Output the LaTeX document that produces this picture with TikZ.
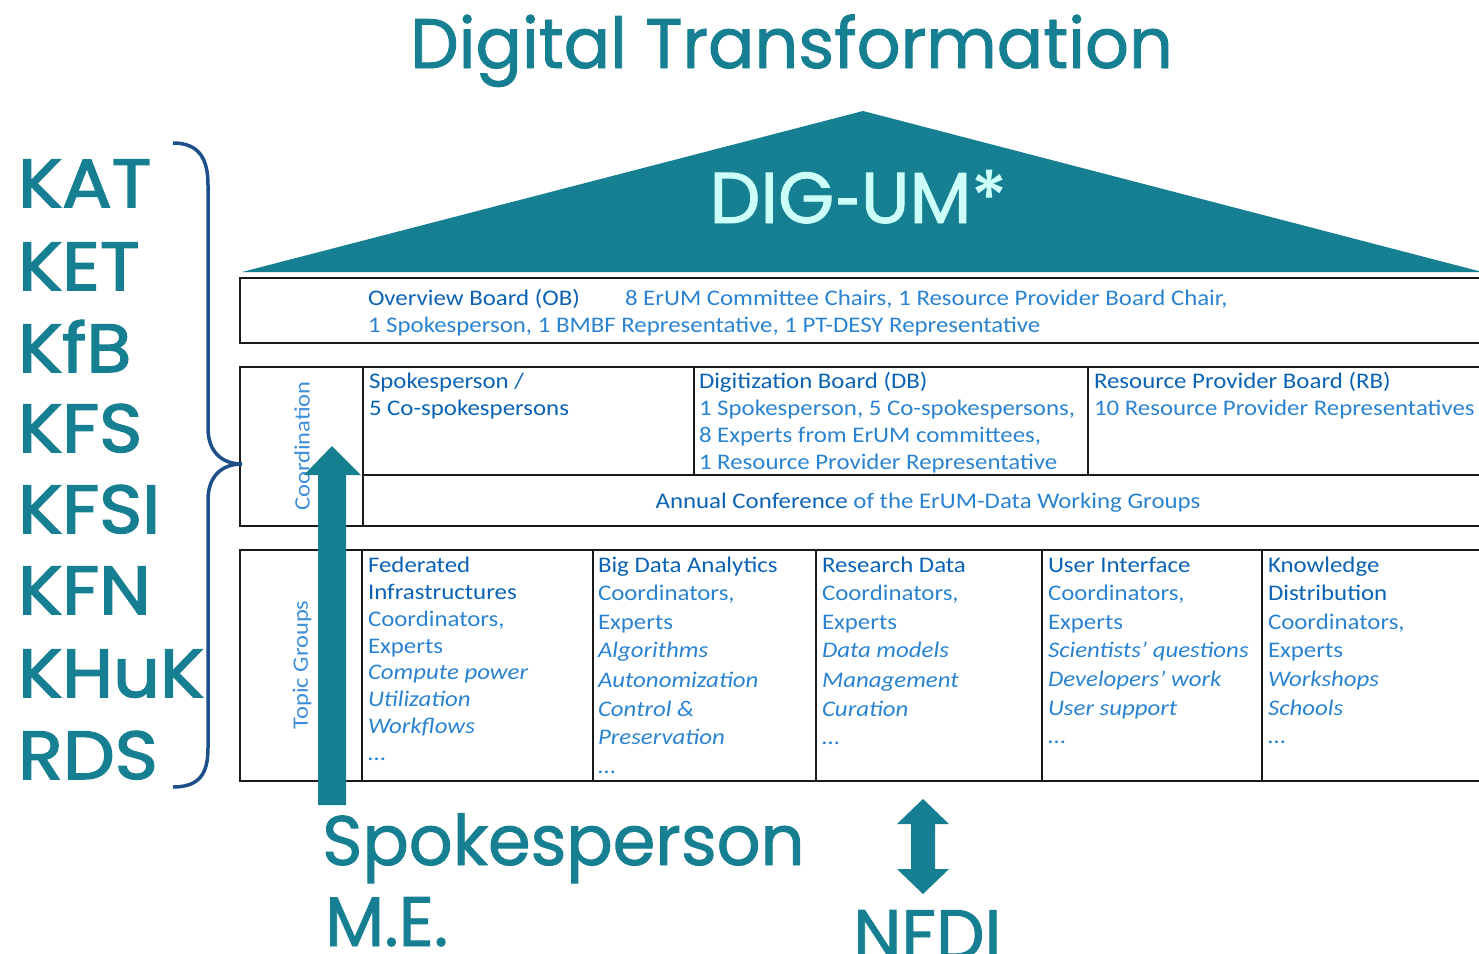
\documentclass[tikz,border=0pt]{standalone}
\usepackage{fontspec}
\setmainfont{Carlito}[FakeStretch=1.115]
\newfontfamily\popm{Poppins}[FakeBold=1.2]
\newfontfamily\popt{Poppins}[FakeBold=1.3, FakeStretch=0.98]
\newfontfamily\popsb{Poppins}[FakeBold=2.2, FakeStretch=1.08]
\newfontfamily\hyf{Lato}[FakeBold=1.5]
\definecolor{roof}{HTML}{167F92}
\definecolor{bracec}{HTML}{1D4F8A}
\definecolor{headblue}{HTML}{0A62B4}
\definecolor{bodyblue}{HTML}{2A83D0}
\definecolor{sideblue}{HTML}{3D8FDA}
\definecolor{digc}{HTML}{CCFFF8}
\definecolor{lineblk}{HTML}{1A1A1A}
\begin{document}
\begin{tikzpicture}[x=1pt,y=-1pt,
  box/.style={draw=lineblk, line width=2pt},
  txt/.style={anchor=base west, inner sep=0pt, outer sep=0pt, font=\fontsize{22.3}{26}\selectfont, text=bodyblue},
  head/.style={txt, text=headblue},
  itx/.style={txt, font=\fontsize{22.3}{26}\selectfont\itshape},
  side/.style={inner sep=0pt, rotate=90, font=\fontsize{22}{26}\selectfont, text=sideblue},
  list/.style={anchor=base west, inner sep=0pt, text=roof, font=\fontsize{68}{70}\popsb},
  bigtxt/.style={anchor=base west, inner sep=0pt, text=roof, font=\fontsize{70}{72}\popt}]
\useasboundingbox (0,0) rectangle (1479,953);

% title
\node[bigtxt] (title) at (410,68) {Digital Transformation};

% roof
\fill[roof] (242,272) -- (863,111) -- (1490,274) -- (1490,272) -- cycle;
\node[anchor=base, inner sep=0pt, text=digc, font=\fontsize{72}{74}\popm] (dig) at (858,223) {DIG{\hyf\fontsize{72}{74}\selectfont -}UM*};

% overview board
\draw[box] (240,278) rectangle (1495,343);
\node[head] (ob) at (368,305) {Overview Board (OB)};
\node[txt] (ob1) at (625,305) {8 ErUM Committee Chairs, 1 Resource Provider Board Chair,};
\node[txt] (ob2) at (368,332) {1 Spokesperson, 1 BMBF Representative, 1 PT-DESY Representative};

% coordination
\draw[box] (240,367) rectangle (1495,526);
\draw[box] (363,367) -- (363,526);
\draw[box] (363,475) -- (1495,475);
\draw[box] (694,367) -- (694,475);
\draw[box] (1088,367) -- (1088,475);
\node[side] (coord) at (302,446) {Coordination};
\node[head] (sp1) at (369,388) {Spokesperson /};
\node[head] (sp2) at (369,415) {5 Co-spokespersons};
\node[head] (db) at (699,388) {Digitization Board (DB)};
\node[txt] (db1) at (699,415) {1 Spokesperson, 5 Co-spokespersons,};
\node[txt] (db2) at (699,442) {8 Experts from ErUM committees,};
\node[txt] (db3) at (699,469) {1 Resource Provider Representative};
\node[head] (rb) at (1094,388) {Resource Provider Board (RB)};
\node[txt] (rb1) at (1094,415) {10 Resource Provider Representatives};
\node[txt, anchor=base] (ac) at (928,508) {\textcolor{headblue}{Annual Conference} of the ErUM-Data Working Groups};

% topic groups
\draw[box] (240,550) rectangle (1495,781);
\draw[box] (362,550) -- (362,781);
\draw[box] (593,550) -- (593,781);
\draw[box] (816,550) -- (816,781);
\draw[box] (1042,550) -- (1042,781);
\draw[box] (1262,550) -- (1262,781);
\node[side] (tg) at (302,665) {Topic Groups};

\node[head] (c1a) at (368,572) {Federated};
\node[head] (c1b) at (368,599) {Infrastructures};
\node[txt] (c1c) at (368,626) {Coordinators,};
\node[txt] (c1d) at (368,653) {Experts};
\node[itx] (c1e) at (368,679) {Compute power};
\node[itx] (c1f) at (368,706) {Utilization};
\node[itx] (c1g) at (368,733) {Workflows};
\node[txt] (c1h) at (368,760) {\dots};

\node[head] (c2a) at (598,572) {Big Data Analytics};
\node[txt] (c2b) at (598,600) {Coordinators,};
\node[txt] (c2c) at (598,629) {Experts};
\node[itx] (c2d) at (598,657) {Algorithms};
\node[itx] (c2e) at (598,687) {Autonomization};
\node[itx] (c2f) at (598,716) {Control \&};
\node[itx] (c2g) at (598,744) {Preservation};
\node[txt] (c2h) at (598,773) {\dots};

\node[head] (c3a) at (822,572) {Research Data};
\node[txt] (c3b) at (822,600) {Coordinators,};
\node[txt] (c3c) at (822,629) {Experts};
\node[itx] (c3d) at (822,657) {Data models};
\node[itx] (c3e) at (822,687) {Management};
\node[itx] (c3f) at (822,716) {Curation};
\node[txt] (c3g) at (822,744) {\dots};

\node[head] (c4a) at (1048,572) {User Interface};
\node[txt] (c4b) at (1048,600) {Coordinators,};
\node[txt] (c4c) at (1048,629) {Experts};
\node[itx] (c4d) at (1048,657) {Scientists’ questions};
\node[itx] (c4e) at (1048,686) {Developers’ work};
\node[itx] (c4f) at (1048,715) {User support};
\node[txt] (c4g) at (1048,743) {\dots};

\node[head] (c5a) at (1268,572) {Knowledge};
\node[head] (c5b) at (1268,600) {Distribution};
\node[txt] (c5c) at (1268,629) {Coordinators,};
\node[txt] (c5d) at (1268,657) {Experts};
\node[itx] (c5e) at (1268,686) {Workshops};
\node[itx] (c5f) at (1268,715) {Schools};
\node[txt] (c5g) at (1268,743) {\dots};

% left list
\node[list] (l1) at (18,207) {KAT};
\node[list] (l2) at (18,290) {KET};
\node[list] (l3) at (18,372) {KfB};
\node[list] (l4) at (18,452) {KFS};
\node[list] (l5) at (18,533) {KFSI};
\node[list] (l6) at (18,614) {KFN};
\node[list] (l7) at (18,697) {KHuK};
\node[list] (l8) at (18,779) {RDS};

% brace
\draw[bracec, line width=3.5pt] (173,143) .. controls (200,143) and (208,160) .. (208,185)
  -- (208,428) .. controls (208,452) and (222,464) .. (242,464)
  .. controls (222,464) and (208,476) .. (208,500)
  -- (208,748) .. controls (208,773) and (200,787) .. (173,787);

% up arrow
\fill[roof] (318,805) -- (318,475) -- (304,475) -- (332,446) -- (361,475) -- (346,475) -- (346,805) -- cycle;

% bottom texts
\node[bigtxt] (spk) at (322,865) {Spokesperson};
\node[bigtxt] (me) at (325,946) {M.E.};
\node[bigtxt] (nfdi) at (853,959) {NFDI};

% double arrow
\fill[roof] (923,799) -- (949,824) -- (935,824) -- (935,869) -- (949,869) -- (923,894)
  -- (897,869) -- (911,869) -- (911,824) -- (897,824) -- cycle;
\end{tikzpicture}
\end{document}
